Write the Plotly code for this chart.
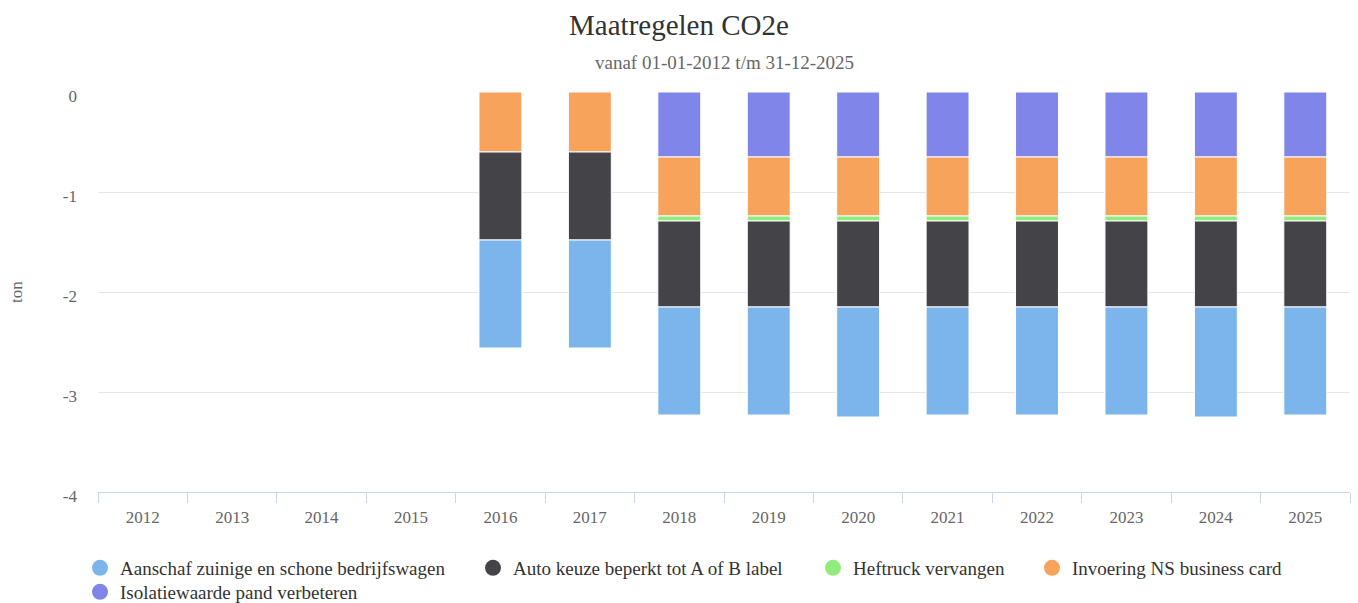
import plotly.graph_objects as go

years = ["2012", "2013", "2014", "2015", "2016", "2017", "2018", "2019",
         "2020", "2021", "2022", "2023", "2024", "2025"]

series_names = [
    "Aanschaf zuinige en schone bedrijfswagen",
    "Auto keuze beperkt tot A of B label",
    "Heftruck vervangen",
    "Invoering NS business card",
    "Isolatiewaarde pand verbeteren",
]
colors = ["#7cb5ec", "#434348", "#90ed7d", "#f7a35c", "#8085e9"]

aanschaf = [None, None, None, None, -1.08, -1.08, -1.08, -1.08, -1.10, -1.08, -1.08, -1.08, -1.10, -1.08]
auto_keuze = [None, None, None, None, -0.88, -0.88, -0.86, -0.86, -0.86, -0.86, -0.86, -0.86, -0.86, -0.86]
heftruck = [None, None, None, None, None, None, -0.05, -0.05, -0.05, -0.05, -0.05, -0.05, -0.05, -0.05]
ns_card = [None, None, None, None, -0.60, -0.60, -0.59, -0.59, -0.59, -0.59, -0.59, -0.59, -0.59, -0.59]
isolatie = [None, None, None, None, None, None, -0.65, -0.65, -0.65, -0.65, -0.65, -0.65, -0.65, -0.65]
values = [aanschaf, auto_keuze, heftruck, ns_card, isolatie]

y_tickvals = [0, -1, -2, -3, -4]
y_ticktext = ["0", "-1", "-2", "-3", "-4"]

FONT = "Liberation Serif"

W, H = 1358, 603
L, R, T, B = 98, 8, 92, 111
PW, PH = W - L - R, H - T - B

def px_x(x):
    return (x - L) / PW

def px_y(y):
    return (H - B - y) / PH

legend_pos = [(80, 549), (473, 549), (813, 549), (1032, 549), (80, 573)]

fig = go.Figure()
# stack order: last series closest to zero (Highcharts style)
for i in reversed(range(len(series_names))):
    fig.add_trace(go.Bar(
        x=years, y=values[i], name=series_names[i],
        marker=dict(color=colors[i], line=dict(color="#ffffff", width=1)),
        showlegend=False,
    ))

legends = {}
for i in range(len(series_names)):
    lname = "legend" if i == 0 else f"legend{i + 1}"
    fig.add_trace(go.Scatter(
        x=[None], y=[None], mode="markers", name=series_names[i],
        marker=dict(color=colors[i], size=18, symbol="circle"),
        legend=lname,
    ))
    lx, ly = legend_pos[i]
    legends[lname] = dict(orientation="h", x=px_x(lx), xanchor="left", y=px_y(ly), yanchor="top",
                          font=dict(family=FONT, size=19, color="#333333"), itemwidth=30,
                          bgcolor="rgba(0,0,0,0)", borderwidth=0)

fig.update_layout(
    barmode="relative",
    bargap=0.52,
    width=W, height=H,
    margin=dict(l=L, r=R, t=T, b=B, autoexpand=False),
    plot_bgcolor="#ffffff", paper_bgcolor="#ffffff",
    font=dict(family=FONT, color="#666666", size=17),
    title=dict(text="Maatregelen CO2e", x=0.5, xanchor="center",
               y=1 - 25 / H, yanchor="middle", yref="container",
               font=dict(family=FONT, size=29, color="#333333")),
    annotations=[
        dict(text="vanaf 01-01-2012 t/m 31-12-2025", x=0.5, xref="paper",
             y=px_y(62), yref="paper", xanchor="center", yanchor="middle",
             showarrow=False, font=dict(family=FONT, size=19, color="#666666")),
        dict(text="ton", x=px_x(16), xref="paper", y=px_y(292), yref="paper",
             xanchor="center", yanchor="middle", textangle=-90,
             showarrow=False, font=dict(family=FONT, size=17, color="#666666")),
    ],
    xaxis=dict(type="category", showgrid=False, showline=True, linecolor="#ccd6eb", linewidth=1,
               ticks="outside", tickson="boundaries", ticklen=10, tickcolor="#ccd6eb",
               tickfont=dict(family=FONT, size=17, color="#666666"), range=[-0.5, 13.5],
               automargin=False, ticklabelstandoff=10),
    yaxis=dict(range=[-4, 0], tickvals=y_tickvals, ticktext=y_ticktext, showgrid=True,
               gridcolor="#e6e6e6", gridwidth=1, zeroline=False, showline=False,
               tickfont=dict(family=FONT, size=17, color="#666666"),
               automargin=False, ticklabelstandoff=20, ticklabelshift=4),
    showlegend=True,
    hovermode=False,
    **legends,
)

fig.write_html("out.html", config={"displayModeBar": False},
               post_script="document.body.style.margin='0px';")
